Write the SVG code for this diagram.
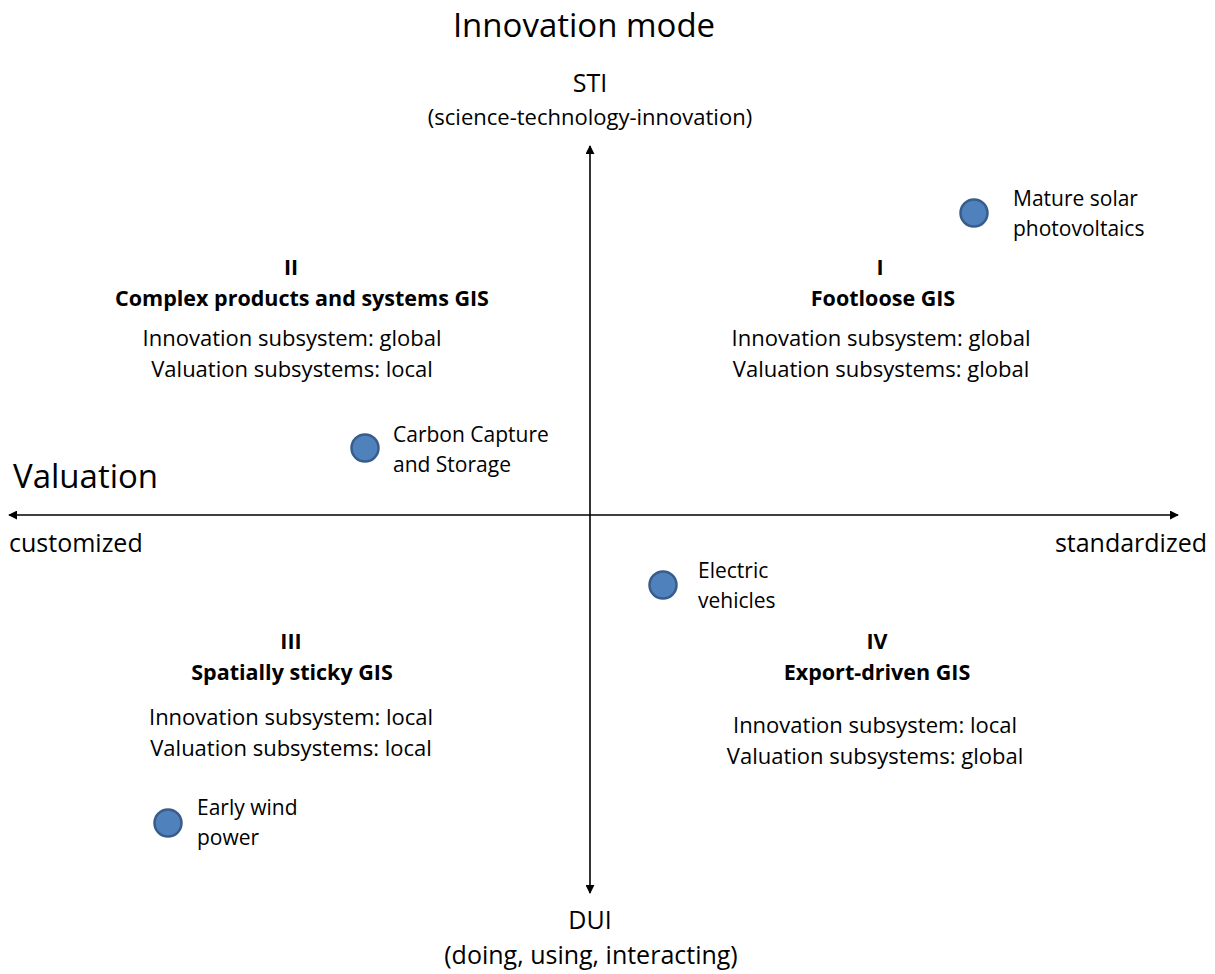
<svg xmlns="http://www.w3.org/2000/svg" width="1215" height="974" viewBox="0 0 1215 974">
  <style>
    text { font-family: "Open Sans", "Noto Sans", "Liberation Sans", sans-serif; fill: #000; }
    .t { font-size: 22px; }
    .lbl { font-size: 21px; }
    .c { text-anchor: middle; }
    .b { font-weight: bold; font-size: 21.5px; }
    .big { font-size: 33px; }
    .end { font-size: 25px; }
    .dot { fill: #4f81bd; stroke: #385d8a; stroke-width: 2.5; }
    .axis { stroke: #000; stroke-width: 1.6; fill: none; }
  </style>
  <defs>
    <marker id="arrow" viewBox="0 0 10 10" refX="9" refY="5" markerWidth="9" markerHeight="9" markerUnits="userSpaceOnUse" orient="auto-start-reverse">
      <path d="M0,0 L10,5 L0,10 z" fill="#000"/>
    </marker>
  </defs>
  <rect width="1215" height="974" fill="#fff"/>

  <!-- axes -->
  <g id="connectors">
    <line class="axis" x1="590" y1="146" x2="590" y2="893" marker-start="url(#arrow)" marker-end="url(#arrow)"/>
    <line class="axis" x1="9" y1="515" x2="1178" y2="515" marker-start="url(#arrow)" marker-end="url(#arrow)"/>
  </g>

  <!-- axis titles -->
  <g id="axis-labels">
    <text class="big c" x="584" y="37">Innovation mode</text>
    <text class="end c" x="590" y="92">STI</text>
    <text class="t c" x="590" y="125">(science-technology-innovation)</text>
    <text class="big" x="13" y="488">Valuation</text>
    <text class="end" x="9" y="552">customized</text>
    <text class="end" x="1207" y="552" text-anchor="end">standardized</text>
    <text class="end c" x="590" y="929">DUI</text>
    <text class="end c" x="591" y="964">(doing, using, interacting)</text>
  </g>

  <!-- quadrant I -->
  <g id="quadrant-1">
    <text class="b c" x="880" y="275">I</text>
    <text class="b c" x="883" y="306">Footloose GIS</text>
    <text class="t c" x="881" y="346">Innovation subsystem: global</text>
    <text class="t c" x="881" y="377">Valuation subsystems: global</text>
  </g>

  <!-- quadrant II -->
  <g id="quadrant-2">
    <text class="b c" x="291" y="275">II</text>
    <text class="b c" x="302" y="306">Complex products and systems GIS</text>
    <text class="t c" x="292" y="346">Innovation subsystem: global</text>
    <text class="t c" x="292" y="377">Valuation subsystems: local</text>
  </g>

  <!-- quadrant III -->
  <g id="quadrant-3">
    <text class="b c" x="291" y="649">III</text>
    <text class="b c" x="292" y="680">Spatially sticky GIS</text>
    <text class="t c" x="291" y="725">Innovation subsystem: local</text>
    <text class="t c" x="291" y="756">Valuation subsystems: local</text>
  </g>

  <!-- quadrant IV -->
  <g id="quadrant-4">
    <text class="b c" x="877" y="649">IV</text>
    <text class="b c" x="877" y="680">Export-driven GIS</text>
    <text class="t c" x="875" y="733">Innovation subsystem: local</text>
    <text class="t c" x="875" y="764">Valuation subsystems: global</text>
  </g>

  <!-- technology markers -->
  <g id="solar-pv">
    <circle class="dot" cx="974" cy="213" r="13.5"/>
    <text class="lbl" x="1013" y="206">Mature solar</text>
    <text class="lbl" x="1013" y="236">photovoltaics</text>
  </g>
  <g id="ccs">
    <circle class="dot" cx="365" cy="448" r="13.5"/>
    <text class="lbl" x="393" y="442">Carbon Capture</text>
    <text class="lbl" x="393" y="472">and Storage</text>
  </g>
  <g id="electric-vehicles">
    <circle class="dot" cx="663" cy="585" r="13.5"/>
    <text class="lbl" x="698" y="578">Electric</text>
    <text class="lbl" x="698" y="608">vehicles</text>
  </g>
  <g id="wind-power">
    <circle class="dot" cx="168" cy="823" r="13.5"/>
    <text class="lbl" x="197" y="815">Early wind</text>
    <text class="lbl" x="197" y="845">power</text>
  </g>
</svg>
